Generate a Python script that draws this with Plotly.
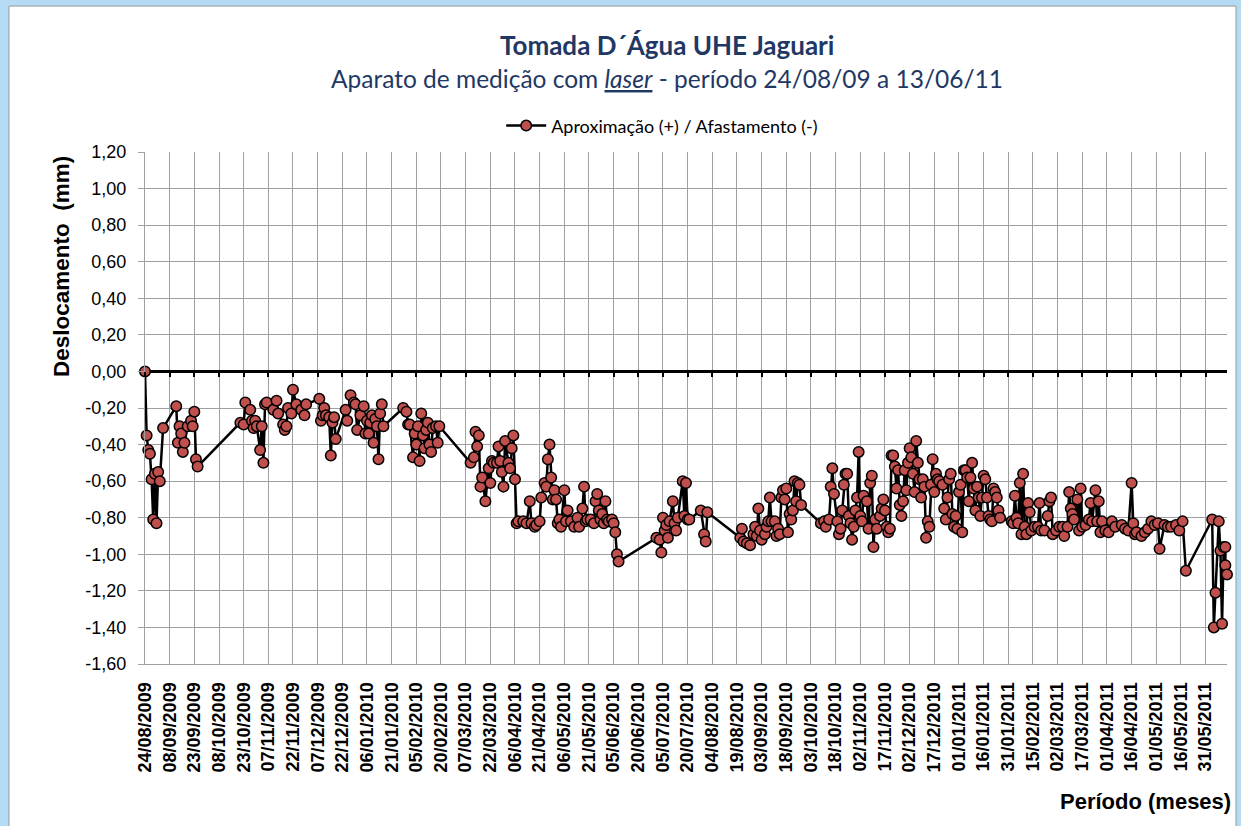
import plotly.graph_objects as go
import pandas as pd

inicio = "2009-08-24"
fim = "2011-06-13"

# dias desde 24/08/2009 (cada linha de `dias` corresponde à mesma linha de `desloc`)
dias = [
    0, 1, 2, 3, 4, 5, 6, 7, 8, 9, 11,
    19, 20, 21, 22, 23, 24, 26, 28, 29, 30, 31, 32,
    58, 60, 61, 64, 65, 66, 67, 68, 70, 71, 72, 73, 74, 78, 80, 81, 84, 85, 86, 87, 89, 90, 92, 95, 97, 98,
    106, 107, 108, 109, 110, 112, 113, 114, 115, 116, 122, 123, 125, 127, 128, 129, 131, 133, 134, 135, 136, 137, 138, 139, 140, 141, 142, 143, 144, 145,
    157, 159, 160, 161, 163, 164, 165, 166, 167, 168, 169, 170, 171, 172, 173, 174, 175, 177, 178, 179,
    198, 200, 201, 202, 203, 204, 205, 207, 209, 210, 211, 212, 214, 215, 216, 217, 218, 219, 221, 222, 223, 224, 225,
    226, 227, 230, 232, 234, 235, 237, 238, 240, 241, 243, 244, 245, 246, 247, 248, 249, 250, 251, 252, 253, 255, 256, 257, 259, 261, 263, 264, 266, 267, 268, 269, 271, 273, 274, 275, 276, 277, 278, 279, 280, 281, 282, 284, 285, 286, 287, 288,
    311, 313, 314, 315, 316, 317, 318, 319, 321, 322, 323, 324, 327, 328, 329, 330, 331, 338, 340, 341, 342,
    362, 363, 364, 366, 368, 370, 371, 372, 373, 374, 375, 377, 378, 379, 380, 381, 383, 384, 385, 386, 387, 388, 389, 390, 391, 392, 393, 394, 395, 396, 397, 398, 399,
    411, 413, 414, 416, 417, 418, 419, 421, 422, 423, 424, 425, 426, 427, 428, 429, 430, 431, 432, 433, 434, 435, 436, 437, 439, 440, 441, 442, 443, 444, 445, 447, 448, 449, 450, 451, 452, 453, 454, 455, 456, 457, 458, 459, 460, 461, 462, 463, 464, 465, 466, 467, 468, 469, 470, 471, 472, 473, 474, 475, 476, 477, 478, 479, 480, 481, 482, 483,
    485, 486, 487, 488, 489, 490, 491, 492, 493, 494, 495, 496, 497, 498, 499, 500, 501, 502, 503, 504, 505, 506, 507, 508, 509, 510, 511, 512, 513, 514, 515, 516, 517, 518, 519, 520,
    527, 528, 529, 530, 531, 532, 533, 534, 535, 536, 537, 538, 539, 541, 543, 544, 545, 547, 549, 550, 551, 552, 554, 556, 558, 559, 561, 562, 563, 564, 565, 567, 568, 569, 570, 572, 574, 575, 576, 578, 579, 580, 581, 582, 584, 586, 588, 590, 594, 596, 598, 600, 601, 602, 603, 606, 608, 610, 612, 614, 616, 617, 620, 622, 624, 627, 629, 631, 633,
    649, 650, 651, 653, 654, 655, 656, 657, 657, 658,
]

# deslocamento (mm)
desloc = [
    0.00, -0.35, -0.43, -0.45, -0.59, -0.81, -0.56, -0.83, -0.55, -0.60, -0.31,
    -0.19, -0.39, -0.30, -0.34, -0.44, -0.39, -0.30, -0.27, -0.30, -0.22, -0.48, -0.52,
    -0.28, -0.29, -0.17, -0.21, -0.27, -0.31, -0.27, -0.30, -0.43, -0.30, -0.50, -0.18, -0.17, -0.21, -0.16, -0.23, -0.29, -0.32, -0.30, -0.20, -0.23, -0.10, -0.18, -0.21, -0.24, -0.18,
    -0.15, -0.27, -0.24, -0.20, -0.24, -0.25, -0.46, -0.28, -0.25, -0.37, -0.21, -0.27, -0.13, -0.17, -0.18, -0.32, -0.24, -0.19, -0.34, -0.27, -0.34, -0.28, -0.24, -0.39, -0.26, -0.30, -0.48, -0.23, -0.18, -0.30,
    -0.20, -0.22, -0.29, -0.29, -0.47, -0.34, -0.40, -0.30, -0.49, -0.23, -0.35, -0.42, -0.32, -0.28, -0.40, -0.44, -0.31, -0.30, -0.39, -0.30,
    -0.50, -0.47, -0.33, -0.41, -0.35, -0.63, -0.58, -0.71, -0.53, -0.61, -0.49, -0.50, -0.50, -0.41, -0.49, -0.55, -0.63, -0.38, -0.50, -0.53, -0.42, -0.35, -0.59,
    -0.83, -0.82, -0.82, -0.83, -0.71, -0.83, -0.85, -0.84, -0.82, -0.69, -0.61, -0.63, -0.48, -0.40, -0.58, -0.70, -0.65, -0.70, -0.83, -0.81, -0.85, -0.65, -0.82, -0.76, -0.82, -0.85, -0.80, -0.85, -0.75, -0.63, -0.82, -0.81, -0.81, -0.83, -0.71, -0.67, -0.76, -0.81, -0.78, -0.83, -0.71, -0.81, -0.82, -0.81, -0.83, -0.88, -1.00, -1.04,
    -0.91, -0.92, -0.99, -0.80, -0.87, -0.84, -0.91, -0.82, -0.71, -0.83, -0.87, -0.80, -0.60, -0.79, -0.61, -0.81, -0.81, -0.76, -0.89, -0.93, -0.77,
    -0.91, -0.86, -0.93, -0.94, -0.95, -0.89, -0.85, -0.90, -0.75, -0.87, -0.92, -0.89, -0.85, -0.82, -0.69, -0.82, -0.82, -0.90, -0.86, -0.89, -0.69, -0.65, -0.70, -0.64, -0.88, -0.78, -0.81, -0.76, -0.60, -0.71, -0.61, -0.62, -0.73,
    -0.83, -0.82, -0.85, -0.81, -0.63, -0.53, -0.67, -0.82, -0.89, -0.86, -0.76, -0.62, -0.56, -0.56, -0.79, -0.83, -0.92, -0.85, -0.76, -0.69, -0.44, -0.79, -0.82, -0.68, -0.71, -0.86, -0.61, -0.57, -0.96, -0.81, -0.86, -0.79, -0.75, -0.70, -0.76, -0.85, -0.88, -0.86, -0.46, -0.46, -0.52, -0.64, -0.54, -0.73, -0.79, -0.71, -0.54, -0.65, -0.50, -0.42, -0.47, -0.56, -0.66, -0.38, -0.50, -0.59, -0.69, -0.59, -0.63, -0.91, -0.82, -0.85, -0.62, -0.48, -0.66, -0.56, -0.59, -0.60,
    -0.62, -0.75, -0.81, -0.69, -0.59, -0.56, -0.78, -0.85, -0.79, -0.86, -0.66, -0.62, -0.88, -0.54, -0.54, -0.58, -0.71, -0.58, -0.50, -0.64, -0.76, -0.63, -0.69, -0.79, -0.69, -0.57, -0.59, -0.69, -0.79, -0.81, -0.82, -0.64, -0.66, -0.69, -0.76, -0.80,
    -0.82, -0.83, -0.68, -0.80, -0.83, -0.61, -0.89, -0.56, -0.85, -0.89, -0.72, -0.77, -0.87, -0.85, -0.85, -0.72, -0.87, -0.87, -0.79, -0.71, -0.69, -0.89, -0.87, -0.85, -0.85, -0.90, -0.85, -0.66, -0.75, -0.78, -0.81, -0.70, -0.87, -0.64, -0.85, -0.84, -0.81, -0.72, -0.82, -0.65, -0.82, -0.71, -0.88, -0.82, -0.87, -0.88, -0.82, -0.85, -0.84, -0.86, -0.87, -0.61, -0.83, -0.89, -0.88, -0.90, -0.88, -0.86, -0.82, -0.84, -0.83, -0.97, -0.84, -0.85, -0.85, -0.84, -0.87, -0.82, -1.09,
    -0.81, -1.40, -1.21, -0.82, -0.98, -1.38, -0.96, -0.96, -1.06, -1.11,
]

rotulos_x = [
    "24/08/2009", "08/09/2009", "23/09/2009", "08/10/2009", "23/10/2009", "07/11/2009",
    "22/11/2009", "07/12/2009", "22/12/2009", "06/01/2010", "21/01/2010", "05/02/2010",
    "20/02/2010", "07/03/2010", "22/03/2010", "06/04/2010", "21/04/2010", "06/05/2010",
    "21/05/2010", "05/06/2010", "20/06/2010", "05/07/2010", "20/07/2010", "04/08/2010",
    "19/08/2010", "03/09/2010", "18/09/2010", "03/10/2010", "18/10/2010", "02/11/2010",
    "17/11/2010", "02/12/2010", "17/12/2010", "01/01/2011", "16/01/2011", "31/01/2011",
    "15/02/2011", "02/03/2011", "17/03/2011", "01/04/2011", "16/04/2011", "01/05/2011",
    "16/05/2011", "31/05/2011",
]

rotulos_y = ["1,20", "1,00", "0,80", "0,60", "0,40", "0,20", "0,00", "-0,20", "-0,40",
             "-0,60", "-0,80", "-1,00", "-1,20", "-1,40", "-1,60"]

assert len(dias) == len(desloc)

datas = pd.Timestamp(inicio) + pd.to_timedelta(dias, unit="D")
ticks_x = pd.to_datetime(rotulos_x, format="%d/%m/%Y")
ticks_y = [float(s.replace(",", ".")) for s in rotulos_y]

NAVY = "#1F3864"
GRID = "#A0A0A0"
BLUE_BG = "#B4DBF3"

fig = go.Figure()
fig.add_trace(go.Scatter(
    x=datas, y=desloc, mode="lines+markers",
    name="Aproximação (+) / Afastamento (-)",
    line=dict(color="black", width=2.5),
    marker=dict(size=10.5, color="#C0504D", line=dict(color="black", width=1.5)),
    cliponaxis=False,
))
# traço auxiliar para o eixo de marcas sobre o zero
fig.add_trace(go.Scatter(x=[inicio], y=[None], xaxis="x2", showlegend=False,
                         hoverinfo="skip", mode="markers"))

fig.update_layout(
    width=1241, height=826,
    margin=dict(l=145, r=14, t=152, b=162),
    paper_bgcolor=BLUE_BG,
    plot_bgcolor="white",
    showlegend=True,
    legend=dict(orientation="h", x=0.478, xanchor="center", y=1.051, yanchor="middle",
                font=dict(family="Lato", size=18, color="black"),
                bgcolor="rgba(0,0,0,0)", itemwidth=40),
    xaxis=dict(
        type="date", range=[inicio, fim],
        tickvals=ticks_x, ticktext=rotulos_x, tickangle=-90,
        tickfont=dict(family="Arial", size=18, color="black", weight="bold"),
        showgrid=True, gridcolor=GRID, gridwidth=1.3,
        ticks="", ticklabelstandoff=10,
        showline=True, linecolor=GRID, linewidth=1.3,
        zeroline=False,
    ),
    xaxis2=dict(
        type="date", range=[inicio, fim], overlaying="x", anchor="free",
        position=0.5723, tickvals=ticks_x, ticks="outside", ticklen=5,
        tickwidth=2, tickcolor="black", showticklabels=False, showgrid=False,
        showline=False, zeroline=False,
    ),
    yaxis=dict(
        range=[-1.6, 1.2], tickvals=ticks_y, ticktext=rotulos_y,
        tickfont=dict(family="Arial", size=18, color="black"),
        showgrid=True, gridcolor=GRID, gridwidth=1.3,
        ticks="outside", ticklen=6, tickcolor=GRID, ticklabelstandoff=8,
        showline=True, linecolor=GRID, linewidth=1.3,
        zeroline=True, zerolinecolor="black", zerolinewidth=3,
    ),
    shapes=[dict(type="rect", xref="paper", yref="paper",
                 x0=-0.1257, x1=1.0083, y0=-0.45, y1=1.285,
                 fillcolor="white", line=dict(color="#9A9A9A", width=1), layer="below")],
    annotations=[
        dict(text="<b>Tomada D´Água UHE Jaguari</b>", xref="paper", yref="paper",
             x=0.4824, y=1.209, xanchor="center", yanchor="middle", showarrow=False,
             font=dict(family="Lato", size=26, color=NAVY)),
        dict(text="Aparato de medição com <i><span style='text-decoration:underline'>laser</span></i> - período 24/08/09 a 13/06/11",
             xref="paper", yref="paper", x=0.4824, y=1.1445, xanchor="center",
             yanchor="middle", showarrow=False,
             font=dict(family="Lato", size=24.5, color=NAVY)),
        dict(text="<b>Deslocamento  (mm)</b>", xref="paper", yref="paper",
             x=-0.0767, y=0.7754, xanchor="center", yanchor="middle", textangle=-90,
             showarrow=False, font=dict(family="Arial", size=22.5, color="black")),
        dict(text="<b>Período (meses)</b>", xref="paper", yref="paper",
             x=1.0055, y=-0.2676, xanchor="right", yanchor="middle",
             showarrow=False, font=dict(family="Arial", size=22, color="black")),
    ],
)

fig.write_html(
    "out.html",
    config={"displayModeBar": False},
    post_script=f"document.body.style.margin='0';document.body.style.background='{BLUE_BG}';",
)
